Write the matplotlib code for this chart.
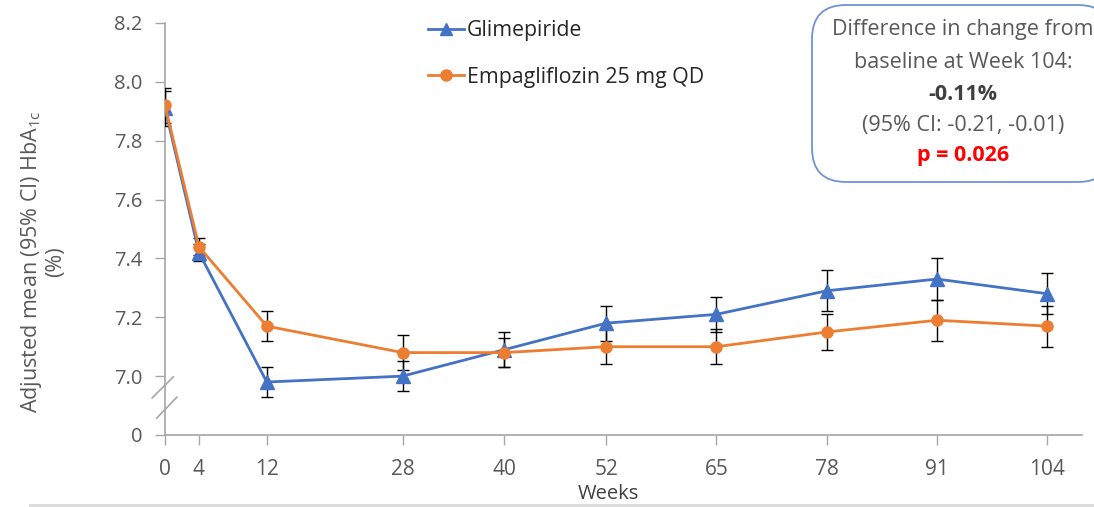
import matplotlib
matplotlib.use("Agg")
import matplotlib.pyplot as plt
from matplotlib.patches import FancyBboxPatch
from matplotlib.lines import Line2D

# data
weeks = [0, 4, 12, 28, 40, 52, 65, 78, 91, 104]
glim = [7.91, 7.42, 6.98, 7.00, 7.09, 7.18, 7.21, 7.29, 7.33, 7.28]
glim_err = [0.06, 0.03, 0.05, 0.05, 0.06, 0.06, 0.06, 0.07, 0.07, 0.07]
empa = [7.92, 7.44, 7.17, 7.08, 7.08, 7.10, 7.10, 7.15, 7.19, 7.17]
empa_err = [0.06, 0.03, 0.05, 0.06, 0.05, 0.06, 0.06, 0.06, 0.07, 0.07]
ytick_vals = [6.8, 7.0, 7.2, 7.4, 7.6, 7.8, 8.0, 8.2]
ytick_labels = ["0", "7.0", "7.2", "7.4", "7.6", "7.8", "8.0", "8.2"]

BLUE = "#4472C4"
ORANGE = "#ED7D31"
GREY = "#595959"
AXGREY = "#a6a6a6"

plt.rcParams["font.family"] = ["Open Sans", "DejaVu Sans"]

fig = plt.figure(figsize=(10.94, 5.07), dpi=100)
ax = fig.add_axes([165 / 1094, 72 / 507, (1082 - 165) / 1094, (435 - 23) / 507])

ax.errorbar(weeks, glim, yerr=glim_err, color=BLUE, lw=2, marker="^", ms=10,
            ecolor="black", elinewidth=1, capsize=4, capthick=1, zorder=3)
ax.errorbar(weeks, empa, yerr=empa_err, color=ORANGE, lw=2, marker="o", ms=8,
            ecolor="black", elinewidth=1, capsize=4, capthick=1, zorder=3)

ax.set_xlim(0, 108.1)
ax.set_ylim(6.8, 8.2)
ax.set_xticks(weeks)
ax.set_xticklabels([str(w) for w in weeks], fontsize=15, color=GREY)
ax.set_yticks(ytick_vals)
ax.set_yticklabels(ytick_labels, fontsize=14.5, color=GREY)
ax.tick_params(axis="both", color=AXGREY, length=7, width=1)
ax.tick_params(axis="x", pad=10)
ax.tick_params(axis="y", pad=9)
for s in ["top", "right"]:
    ax.spines[s].set_visible(False)
for s in ["left", "bottom"]:
    ax.spines[s].set_color(AXGREY)
    ax.spines[s].set_linewidth(1.2)

# axis break marks
ax.plot([-0.014, 0.009], [0.090, 0.141], transform=ax.transAxes,
        color=AXGREY, lw=1.2, clip_on=False)
ax.plot([-0.009, 0.013], [0.041, 0.092], transform=ax.transAxes,
        color=AXGREY, lw=1.2, clip_on=False)

ax.set_ylabel("Adjusted mean (95% CI) HbA$_{\\mathregular{1c}}$\n(%)",
              fontsize=15.5, color=GREY, linespacing=1.05)
ax.yaxis.set_label_coords(-0.108, 0.42)

fig.text(608 / 1094, 1 - 494 / 507, "Weeks", ha="center", va="center",
         fontsize=14.5, color="#404040")

# overlay in pixel coordinates for the box and the bottom rule
over = fig.add_axes([0, 0, 1, 1], zorder=5)
over.set_xlim(0, 1094)
over.set_ylim(507, 0)
over.axis("off")
over.plot([30, 1094], [505, 505], color="#d9d9d9", lw=2)

box = FancyBboxPatch((812, 5), 300, 177, boxstyle="round,pad=0,rounding_size=34",
                     facecolor="white", edgecolor="#6f93d6", lw=1.3)
over.add_patch(box)
lines = [("Difference in change from", GREY, "normal", 30),
         ("baseline at Week 104:", GREY, "normal", 62),
         ("-0.11%", "#404040", "bold", 94),
         ("(95% CI: -0.21, -0.01)", GREY, "normal", 126),
         ("p = 0.026", "#ff0000", "bold", 155)]
for txt, col, wt, yp in lines:
    over.text(963, yp, txt, ha="center", va="center",
              fontsize=15.5, color=col, fontweight=wt)

# legend
handles = [Line2D([], [], color=BLUE, lw=2, marker="^", ms=9),
           Line2D([], [], color=ORANGE, lw=2, marker="o", ms=8)]
leg = fig.legend(handles, ["Glimepiride", "Empagliflozin 25 mg QD"],
                 loc="upper left", bbox_to_anchor=(409 / 1094, 1 - 1 / 507),
                 frameon=False, labelspacing=1.2, handlelength=1.7,
                 handletextpad=0.12, prop={"size": 15.3})
for t in leg.get_texts():
    t.set_color("#262626")

fig.savefig("out.png", dpi=100)
